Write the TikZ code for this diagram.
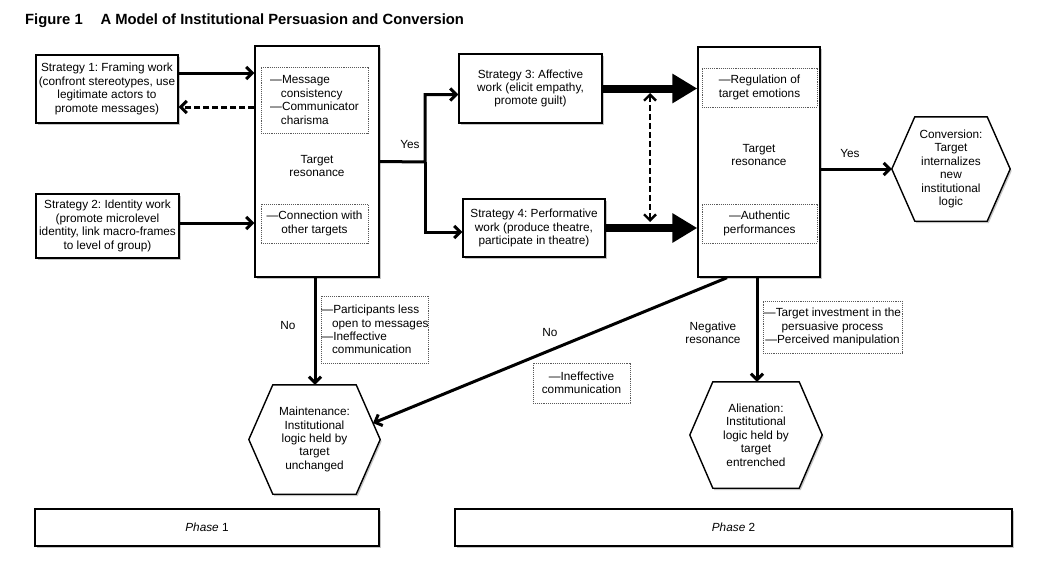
\documentclass[tikz,border=0pt]{standalone}
\usepackage{fontspec}
\setmainfont{Liberation Sans}
\usetikzlibrary{calc, arrows.meta, shadows}

\frenchspacing
\newcommand{\nodefont}{\fontsize{11.8}{13.4}\selectfont}
\pgfdeclarelayer{background}
\pgfsetlayers{background,main}

\tikzset{
    box_shadow/.style={drop shadow={shadow xshift=1.5pt, shadow yshift=-2pt, opacity=0.45}},
    strategy_box/.style={rectangle, draw=black, line width=1.4pt, fill=white, text centered, align=center, inner sep=0pt, box_shadow, font=\nodefont},
    note_box/.style={rectangle, draw=black!65, densely dotted, line width=0.9pt, fill=white, align=center, inner sep=0pt, font=\nodefont},
    outcome_node/.style={rectangle, inner sep=0pt, text centered, align=center, font=\nodefont},
    hex_line/.style={draw=black, line width=1.4pt, fill=white, box_shadow},
    center_text/.style={text centered, align=center, inner sep=0pt, font=\nodefont},
    arrow/.style={line width=3pt, ->, >={Straight Barb[length=6pt, width=12pt]}},
    dashed_arrow/.style={arrow, dash pattern=on 6pt off 3pt},
    fat_arrow/.style={line width=8pt, -{Triangle[length=25pt, width=28pt]}},
    line/.style={line width=3pt},
}

% hexagon round an outcome node: node name, corner inset
\newcommand{\hexoutline}[2]{%
    \begin{pgfonlayer}{background}
        \draw[hex_line] (#1.west) -- ([xshift=#2]#1.north west) -- ([xshift=-#2]#1.north east)
            -- (#1.east) -- ([xshift=-#2]#1.south east) -- ([xshift=#2]#1.south west) -- cycle;
    \end{pgfonlayer}}

\begin{document}
\begin{tikzpicture}[x=1pt, y=-1pt]
    \useasboundingbox (0,0) rectangle (1055,560);

    \node (title) [anchor=west, inner sep=0pt, font=\fontsize{14.8}{17}\selectfont\bfseries] at (25,21)
        {Figure 1\hspace{1.2em}A Model of Institutional Persuasion and Conversion};

    %%%%%%%%%%%
    % PHASE 1 %
    %%%%%%%%%%%
    \node (strat1) [strategy_box, minimum width=142pt, minimum height=68pt] at (107,89)
        {Strategy 1: Framing work\\(confront stereotypes, use\\legitimate actors to\\promote messages)};
    \node (strat2) [strategy_box, minimum width=143pt, minimum height=64pt] at (107.5,226)
        {Strategy 2: Identity work\\(promote microlevel\\identity, link macro-frames\\to level of group)};
    \node (target1) [strategy_box, minimum width=124pt, minimum height=231pt] at (317,161.5) {};
    \node (reson1) [center_text] at (317,166)
        {Target\\resonance};
    \node (note1) [note_box, align=left, minimum width=107pt, minimum height=66pt] at (314.5,100)
        {—Message\\\hspace{0.9em}consistency\\—Communicator\\\hspace{0.9em}charisma};
    \node (note2) [note_box, minimum width=107pt, minimum height=39pt] at (314.5,223.5)
        {—Connection with\\other targets};

    \draw[arrow] ([yshift=16pt]strat1.east) -- ([yshift=16pt]strat1.east -| target1.west);
    \draw[dashed_arrow] ([yshift=-18pt]strat1.east -| target1.west) -- ([yshift=-18pt]strat1.east);
    \draw[arrow] ([yshift=3pt]strat2.east) -- ([yshift=3pt]strat2.east -| target1.west);

    %%%%%%%%%%%
    % PHASE 2 %
    %%%%%%%%%%%
    \node (strat3) [strategy_box, minimum width=143pt, minimum height=69pt] at (530.5,88.5)
        {Strategy 3: Affective\\work (elicit empathy,\\promote guilt)};
    \node (strat4) [strategy_box, minimum width=142pt, minimum height=58pt] at (534,228)
        {Strategy 4: Performative\\work (produce theatre,\\participate in theatre)};
    \node (target2) [strategy_box, minimum width=122pt, minimum height=230pt] at (759,162) {};
    \node (reson2) [center_text] at (759,155)
        {Target\\resonance};
    \node (note3) [note_box, minimum width=115pt, minimum height=39pt] at (759.5,87.5)
        {—Regulation of\\target emotions};
    \node (note4) [note_box, minimum width=115pt, minimum height=39pt] at (759.5,223.5)
        {—Authentic\\performances};

    \coordinate (split) at (425,162);
    \draw[arrow] (target1.east) -- (split) |- ([yshift=-6pt]strat3.west);
    \draw[arrow] (split) |- ([yshift=-4pt]strat4.west);
    \node (yes1) [center_text] at (410,144) {Yes};

    \draw[fat_arrow] (strat3.east) -- (strat3.east -| target2.west);
    \draw[fat_arrow] (strat4.east) -- (strat4.east -| target2.west);
    \coordinate (link_top) at (650,93);
    \coordinate (link_bot) at (650,222);
    \draw[dashed_arrow, <->, line width=2.4pt] (link_top) -- (link_bot);

    %%%%%%%%%%%%
    % OUTCOMES %
    %%%%%%%%%%%%
    \node (convert) [outcome_node, minimum width=118pt, minimum height=104pt] at (951,169)
        {Conversion:\\Target\\internalizes\\new\\institutional\\logic};
    \hexoutline{convert}{23pt}
    \node (maintain) [outcome_node, minimum width=131pt, minimum height=109pt] at (314.5,439.5)
        {Maintenance:\\Institutional\\logic held by\\target\\unchanged};
    \hexoutline{maintain}{24pt}
    \node (alienate) [outcome_node, minimum width=132pt, minimum height=106pt] at (756,435)
        {Alienation:\\Institutional\\logic held by\\target\\entrenched};
    \hexoutline{alienate}{23pt}

    \draw[arrow] (convert.west -| target2.east) -- (convert.west);
    \node (yes2) [center_text] at (850,153) {Yes};

    \draw[arrow] ([xshift=-2pt]target1.south) -- ([xshift=-2pt]target1.south |- maintain.north);
    \node (no1) [center_text] at (288,325) {No};
    \node (note5) [note_box, align=left, minimum width=104pt, minimum height=67pt] at (375,329.5)
        {—Participants less\\\hspace{0.9em}open to messages\\—Ineffective\\\hspace{0.9em}communication};

    \coordinate (maint_edge) at ($(maintain.east)!0.3!([xshift=-24pt]maintain.north east)$);
    \draw[arrow] ([xshift=-32pt]target2.south) -- (maint_edge);
    \node (no2) [center_text] at (550,332) {No};
    \node (note6) [note_box, minimum width=97pt, minimum height=40pt] at (581.5,383)
        {—Ineffective\\communication};

    \draw[arrow] ([xshift=-2pt]target2.south) -- ([xshift=-2pt]target2.south |- alienate.north);
    \node (neg) [center_text] at (713,333) {Negative\\resonance};
    \node (note7) [note_box, minimum width=139pt, minimum height=52pt] at (832.5,327)
        {—Target investment in the\\persuasive process\\—Perceived manipulation};

    %%%%%%%%%%
    % PHASES %
    %%%%%%%%%%
    \node (phase1) [strategy_box, minimum width=344pt, minimum height=37pt] at (207,527.5)
        {\textit{Phase} 1};
    \node (phase2) [strategy_box, minimum width=557pt, minimum height=37pt] at (733.5,527.5)
        {\textit{Phase} 2};
\end{tikzpicture}
\end{document}
